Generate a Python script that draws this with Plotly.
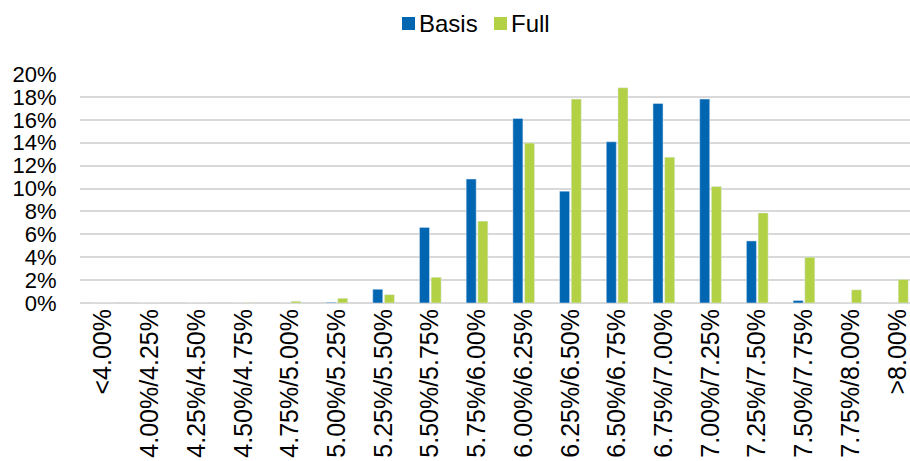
import plotly.graph_objects as go

# Rate buckets on the x axis
categories = [
    "<4.00%", "4.00%/4.25%", "4.25%/4.50%", "4.50%/4.75%", "4.75%/5.00%",
    "5.00%/5.25%", "5.25%/5.50%", "5.50%/5.75%", "5.75%/6.00%", "6.00%/6.25%",
    "6.25%/6.50%", "6.50%/6.75%", "6.75%/7.00%", "7.00%/7.25%", "7.25%/7.50%",
    "7.50%/7.75%", "7.75%/8.00%", ">8.00%",
]

# Share of outcomes per bucket, in percent
basis = [0, 0, 0, 0, 0, 0.06, 1.2, 6.6, 10.83, 16.12,
         9.77, 14.08, 17.43, 17.81, 5.42, 0.22, 0, 0]
full = [0, 0, 0, 0.05, 0.15, 0.41, 0.73, 2.25, 7.15, 13.97,
        17.81, 18.80, 12.74, 10.17, 7.87, 4.0, 1.15, 2.06]

y_ticks = [0, 2, 4, 6, 8, 10, 12, 14, 16, 18, 20]

FONT = "Liberation Sans, Arial, sans-serif"
BLUE = "#0066B2"
GREEN = "#B3D145"
GRID = "#D9D9D9"

W, H = 910, 461
M_L, M_R, M_T, M_B = 80, 0, 74, 158

x_idx = list(range(len(categories)))


def px_to_paper_x(px):
    return (px - M_L) / (W - M_L - M_R)


def px_to_paper_y(py):
    return (H - M_B - py) / (H - M_T - M_B)


fig = go.Figure()
fig.add_trace(go.Bar(name="Basis", x=x_idx, y=basis, marker_color=BLUE, showlegend=False))
fig.add_trace(go.Bar(name="Full", x=x_idx, y=full, marker_color=GREEN, showlegend=False))

# Compact legend row above the plot: colour swatch followed closely by its label
legend_items = [("Basis", BLUE, 402), ("Full", GREEN, 494)]
for name, color, left in legend_items:
    fig.add_shape(
        type="rect",
        xref="paper", yref="paper",
        x0=px_to_paper_x(left), x1=px_to_paper_x(left + 13),
        y0=px_to_paper_y(30), y1=px_to_paper_y(17),
        fillcolor=color, line=dict(width=0),
    )
    fig.add_annotation(
        text=name,
        xref="paper", yref="paper",
        x=px_to_paper_x(left + 15), y=px_to_paper_y(23.5),
        xanchor="left", yanchor="middle",
        showarrow=False,
        font=dict(family=FONT, size=24, color="black"),
    )

fig.update_layout(
    width=W,
    height=H,
    margin=dict(l=M_L, r=M_R, t=M_T, b=M_B),
    paper_bgcolor="white",
    plot_bgcolor="white",
    font=dict(family=FONT, size=22, color="black"),
    barmode="group",
    bargap=0.5,
    bargroupgap=0.14,
    showlegend=False,
)

fig.update_xaxes(
    tickmode="array",
    tickvals=x_idx,
    ticktext=categories,
    tickangle=-90,
    range=[-0.5, 17.27],
    showgrid=False,
    zeroline=False,
    showline=False,
    ticks="",
    ticklabeloverflow="allow",
    tickfont=dict(family=FONT, size=25, color="black"),
)

fig.update_yaxes(
    range=[0, 20],
    tickmode="array",
    tickvals=y_ticks,
    ticktext=[f"{v}%" for v in y_ticks],
    showgrid=True,
    gridcolor=GRID,
    gridwidth=2,
    zeroline=True,
    zerolinecolor=GRID,
    zerolinewidth=2,
    showline=False,
    ticks="outside",
    ticklen=18,
    tickcolor="rgba(0,0,0,0)",
    tickfont=dict(family=FONT, size=22, color="black"),
)

fig.write_html("out.html")
